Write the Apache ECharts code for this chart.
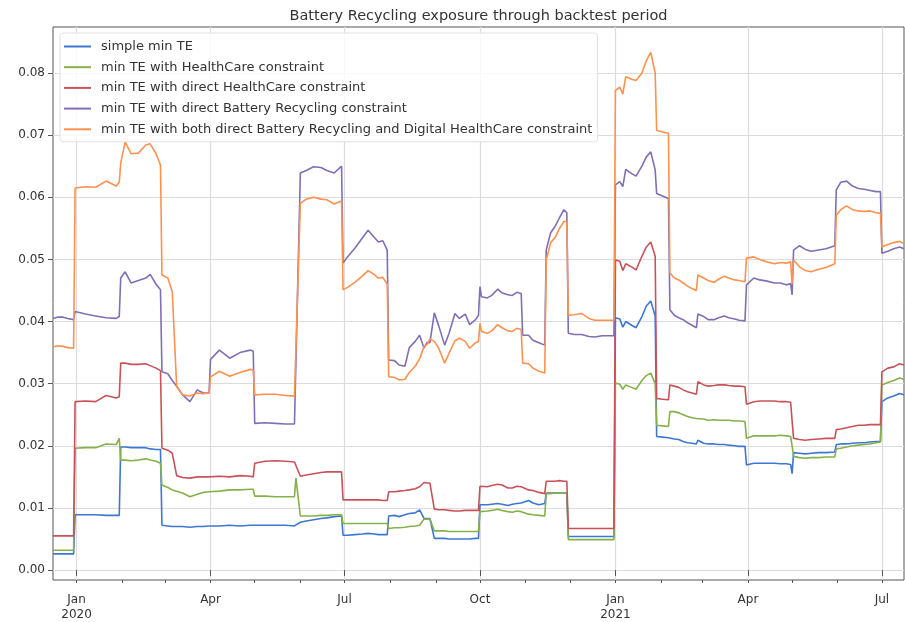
<!DOCTYPE html>
<html>
<head>
<meta charset="utf-8">
<script src="https://cdn.jsdelivr.net/npm/echarts@6/dist/echarts.min.js"></script>
<style>
  html, body { margin: 0; padding: 0; background: #ffffff; }
  #chart { width: 905px; height: 622px; }
</style>
</head>
<body>
<div id="chart"></div>
<script>
// Observation dates (rebalancing days appear as consecutive pairs)
const dates = [
  '2019-12-16','2019-12-19','2019-12-23','2019-12-26','2019-12-30',
  '2019-12-31','2020-01-07','2020-01-14','2020-01-21','2020-01-28','2020-01-30',
  '2020-01-31','2020-02-03','2020-02-07','2020-02-12','2020-02-17','2020-02-20','2020-02-24','2020-02-27',
  '2020-02-28','2020-03-03','2020-03-06',
  '2020-03-09','2020-03-13','2020-03-18','2020-03-23','2020-03-27','2020-03-31',
  '2020-04-01','2020-04-07','2020-04-14','2020-04-21','2020-04-28','2020-04-30',
  '2020-05-01','2020-05-08','2020-05-15','2020-05-22','2020-05-28','2020-05-29',
  '2020-06-01','2020-06-05','2020-06-10','2020-06-15','2020-06-19','2020-06-24','2020-06-29',
  '2020-06-30','2020-07-03','2020-07-08','2020-07-13','2020-07-17','2020-07-21','2020-07-24','2020-07-27','2020-07-30',
  '2020-07-31','2020-08-04','2020-08-07','2020-08-11','2020-08-14','2020-08-18','2020-08-21',
  '2020-08-24','2020-08-26','2020-08-28',
  '2020-08-31','2020-09-03','2020-09-07','2020-09-10','2020-09-14','2020-09-17','2020-09-21','2020-09-24','2020-09-28','2020-09-30',
  '2020-10-01','2020-10-02','2020-10-06','2020-10-09','2020-10-13','2020-10-16','2020-10-20','2020-10-23','2020-10-26','2020-10-29',
  '2020-10-30','2020-11-03','2020-11-06','2020-11-10','2020-11-14',
  '2020-11-15','2020-11-18','2020-11-21','2020-11-24','2020-11-27','2020-11-29',
  '2020-11-30','2020-12-04','2020-12-09','2020-12-14','2020-12-18','2020-12-23','2020-12-31',
  '2021-01-01','2021-01-04','2021-01-06','2021-01-08','2021-01-12','2021-01-15','2021-01-19','2021-01-22','2021-01-25','2021-01-28',
  '2021-01-29','2021-02-02','2021-02-06',
  '2021-02-07','2021-02-10','2021-02-13','2021-02-16','2021-02-19','2021-02-22','2021-02-25',
  '2021-02-26','2021-03-02','2021-03-05','2021-03-09','2021-03-12','2021-03-16','2021-03-19','2021-03-23','2021-03-26','2021-03-30',
  '2021-03-31','2021-04-05','2021-04-09','2021-04-14','2021-04-19','2021-04-23','2021-04-27','2021-04-30',
  '2021-05-01',
  '2021-05-02','2021-05-06','2021-05-10','2021-05-14','2021-05-19','2021-05-24','2021-05-30',
  '2021-05-31','2021-06-03','2021-06-07','2021-06-11','2021-06-15','2021-06-19','2021-06-23','2021-06-27','2021-06-30',
  '2021-07-01','2021-07-05','2021-07-09','2021-07-13','2021-07-16'
];

// simple min TE
const simpleMinTE = [
  0.0026,0.0026,0.0026,0.0026,0.0026,
  0.0089,0.0089,0.0089,0.0088,0.0088,0.0088,
  0.0198,0.0198,0.0197,0.0197,0.0197,0.0195,0.0194,0.0194,
  0.0072,0.0071,0.0070,
  0.0070,0.0070,0.0069,0.0070,0.0070,0.0071,
  0.0071,0.0071,0.0072,0.0071,0.0072,0.0072,
  0.0071,0.0072,0.0072,0.0072,0.0071,0.0071,
  0.0077,0.0079,0.0081,0.0083,0.0084,0.0086,0.0087,
  0.0056,0.0056,0.0057,0.0058,0.0059,0.0058,0.0057,0.0057,0.0057,
  0.0087,0.0088,0.0086,0.0089,0.0091,0.0092,0.0097,
  0.0083,0.0083,0.0083,
  0.0051,0.0051,0.0051,0.0050,0.0050,0.0050,0.0050,0.0050,0.0051,0.0051,
  0.0105,0.0105,0.0105,0.0106,0.0107,0.0106,0.0104,0.0106,0.0107,0.0108,
  0.0109,0.0112,0.0108,0.0105,0.0107,
  0.0124,0.0124,0.0124,0.0124,0.0124,0.0124,
  0.0054,0.0054,0.0054,0.0054,0.0054,0.0054,0.0054,
  0.0406,0.0404,0.0391,0.0400,0.0394,0.0390,0.0408,0.0425,0.0433,0.0409,
  0.0215,0.0214,0.0213,
  0.0213,0.0211,0.0210,0.0207,0.0205,0.0204,0.0203,
  0.0209,0.0204,0.0203,0.0203,0.0202,0.0202,0.0201,0.0200,0.0199,0.0199,
  0.0169,0.0172,0.0172,0.0172,0.0172,0.0171,0.0171,0.0170,
  0.0155,
  0.0189,0.0188,0.0187,0.0188,0.0189,0.0189,0.0190,
  0.0202,0.0203,0.0203,0.0204,0.0205,0.0205,0.0206,0.0207,0.0207,
  0.0271,0.0277,0.0280,0.0284,0.0282
];

// min TE with HealthCare constraint
const healthCareTE = [
  0.0032,0.0032,0.0032,0.0032,0.0032,
  0.0196,0.0197,0.0197,0.0203,0.0202,0.0212,
  0.0177,0.0177,0.0176,0.0177,0.0179,0.0177,0.0175,0.0172,
  0.0137,0.0133,0.0129,
  0.0127,0.0124,0.0118,0.0122,0.0125,0.0126,
  0.0126,0.0127,0.0129,0.0129,0.0130,0.0130,
  0.0119,0.0119,0.0118,0.0118,0.0118,0.0148,
  0.0087,0.0087,0.0087,0.0088,0.0088,0.0089,0.0089,
  0.0075,0.0075,0.0075,0.0075,0.0075,0.0075,0.0075,0.0075,0.0075,
  0.0067,0.0068,0.0068,0.0069,0.0070,0.0071,0.0072,
  0.0082,0.0082,0.0082,
  0.0063,0.0063,0.0063,0.0062,0.0062,0.0062,0.0062,0.0062,0.0062,0.0062,
  0.0094,0.0094,0.0095,0.0096,0.0098,0.0096,0.0094,0.0093,0.0095,0.0094,
  0.0092,0.0090,0.0089,0.0088,0.0087,
  0.0123,0.0123,0.0124,0.0124,0.0124,0.0124,
  0.0049,0.0049,0.0049,0.0049,0.0049,0.0049,0.0049,
  0.0301,0.0299,0.0291,0.0298,0.0294,0.0291,0.0305,0.0313,0.0317,0.0300,
  0.0233,0.0232,0.0231,
  0.0255,0.0255,0.0253,0.0250,0.0247,0.0245,0.0244,
  0.0247,0.0243,0.0241,0.0242,0.0241,0.0241,0.0241,0.0240,0.0240,0.0239,
  0.0212,0.0216,0.0216,0.0216,0.0216,0.0217,0.0216,0.0215,
  0.0200,
  0.0183,0.0181,0.0180,0.0181,0.0181,0.0182,0.0182,
  0.0195,0.0196,0.0198,0.0200,0.0201,0.0202,0.0203,0.0205,0.0206,
  0.0298,0.0302,0.0305,0.0309,0.0307
];

// min TE with direct HealthCare constraint
const directHealthCareTE = [
  0.0055,0.0055,0.0055,0.0055,0.0055,
  0.0271,0.0272,0.0271,0.0281,0.0277,0.0279,
  0.0333,0.0333,0.0331,0.0331,0.0332,0.0329,0.0325,0.0321,
  0.0196,0.0193,0.0188,
  0.0152,0.0149,0.0148,0.0150,0.0150,0.0150,
  0.0150,0.0151,0.0150,0.0152,0.0151,0.0150,
  0.0172,0.0175,0.0176,0.0175,0.0174,0.0174,
  0.0151,0.0153,0.0155,0.0157,0.0158,0.0158,0.0158,
  0.0113,0.0113,0.0113,0.0113,0.0113,0.0113,0.0113,0.0112,0.0112,
  0.0126,0.0126,0.0127,0.0128,0.0129,0.0131,0.0134,
  0.0141,0.0140,0.0140,
  0.0098,0.0097,0.0097,0.0096,0.0095,0.0095,0.0096,0.0096,0.0096,0.0096,
  0.0135,0.0135,0.0134,0.0136,0.0138,0.0137,0.0132,0.0132,0.0135,0.0134,
  0.0131,0.0129,0.0128,0.0125,0.0123,
  0.0143,0.0143,0.0143,0.0144,0.0143,0.0143,
  0.0067,0.0067,0.0067,0.0067,0.0067,0.0067,0.0067,
  0.0499,0.0497,0.0482,0.0493,0.0488,0.0483,0.0505,0.0520,0.0528,0.0505,
  0.0276,0.0275,0.0274,
  0.0298,0.0296,0.0294,0.0290,0.0287,0.0285,0.0283,
  0.0303,0.0298,0.0296,0.0297,0.0298,0.0298,0.0297,0.0296,0.0296,0.0295,
  0.0267,0.0271,0.0272,0.0272,0.0272,0.0271,0.0271,0.0270,
  0.0240,
  0.0212,0.0210,0.0209,0.0210,0.0211,0.0212,0.0212,
  0.0226,0.0227,0.0229,0.0231,0.0233,0.0233,0.0234,0.0234,0.0234,
  0.0319,0.0325,0.0327,0.0332,0.0330
];

// min TE with direct Battery Recycling constraint
const directBatteryTE = [
  0.0405,0.0407,0.0407,0.0405,0.0403,
  0.0416,0.0412,0.0409,0.0406,0.0405,0.0408,
  0.0470,0.0480,0.0462,0.0466,0.0470,0.0476,0.0460,0.0451,
  0.0319,0.0316,0.0305,
  0.0296,0.0282,0.0271,0.0290,0.0285,0.0285,
  0.0339,0.0354,0.0341,0.0350,0.0354,0.0352,
  0.0236,0.0237,0.0236,0.0235,0.0235,0.0235,
  0.0639,0.0643,0.0649,0.0648,0.0643,0.0639,0.0650,
  0.0494,0.0504,0.0518,0.0534,0.0547,0.0536,0.0528,0.0530,0.0515,
  0.0338,0.0337,0.0330,0.0328,0.0358,0.0368,0.0378,
  0.0357,0.0366,0.0366,
  0.0414,0.0393,0.0362,0.0381,0.0413,0.0405,0.0412,0.0395,0.0403,0.0410,
  0.0456,0.0440,0.0438,0.0442,0.0452,0.0446,0.0443,0.0442,0.0447,0.0445,
  0.0378,0.0378,0.0370,0.0366,0.0362,
  0.0515,0.0543,0.0553,0.0567,0.0580,0.0575,
  0.0381,0.0379,0.0379,0.0376,0.0375,0.0377,0.0377,
  0.0620,0.0625,0.0617,0.0645,0.0638,0.0634,0.0650,0.0665,0.0673,0.0644,
  0.0606,0.0602,0.0598,
  0.0419,0.0410,0.0406,0.0403,0.0398,0.0394,0.0390,
  0.0412,0.0408,0.0403,0.0403,0.0406,0.0409,0.0406,0.0404,0.0402,0.0401,
  0.0459,0.0470,0.0467,0.0465,0.0462,0.0462,0.0459,0.0461,
  0.0443,
  0.0515,0.0522,0.0516,0.0513,0.0515,0.0517,0.0522,
  0.0612,0.0624,0.0626,0.0618,0.0614,0.0613,0.0611,0.0609,0.0609,
  0.0510,0.0513,0.0517,0.0520,0.0517
];

// min TE with both direct Battery Recycling and Digital HealthCare constraint
const bothDirectTE = [
  0.0359,0.0361,0.0360,0.0358,0.0357,
  0.0615,0.0617,0.0616,0.0626,0.0618,0.0624,
  0.0655,0.0689,0.0670,0.0671,0.0684,0.0686,0.0670,0.0652,
  0.0475,0.0470,0.0448,
  0.0295,0.0282,0.0280,0.0285,0.0284,0.0285,
  0.0311,0.0320,0.0312,0.0318,0.0323,0.0322,
  0.0282,0.0283,0.0283,0.0281,0.0280,0.0280,
  0.0590,0.0597,0.0600,0.0597,0.0596,0.0589,0.0594,
  0.0451,0.0455,0.0463,0.0473,0.0482,0.0476,0.0470,0.0471,0.0460,
  0.0311,0.0310,0.0306,0.0307,0.0318,0.0328,0.0340,
  0.0360,0.0363,0.0372,
  0.0368,0.0357,0.0333,0.0349,0.0369,0.0373,0.0368,0.0357,0.0366,0.0368,
  0.0397,0.0384,0.0381,0.0385,0.0395,0.0390,0.0385,0.0384,0.0389,0.0387,
  0.0333,0.0332,0.0325,0.0320,0.0317,
  0.0499,0.0527,0.0535,0.0550,0.0561,0.0561,
  0.0410,0.0411,0.0413,0.0405,0.0402,0.0402,0.0402,
  0.0772,0.0777,0.0766,0.0794,0.0790,0.0788,0.0800,0.0820,0.0833,0.0800,
  0.0708,0.0705,0.0703,
  0.0478,0.0470,0.0467,0.0462,0.0457,0.0453,0.0450,
  0.0475,0.0470,0.0466,0.0463,0.0468,0.0473,0.0470,0.0467,0.0466,0.0464,
  0.0502,0.0504,0.0500,0.0496,0.0493,0.0495,0.0494,0.0496,
  0.0461,
  0.0499,0.0488,0.0482,0.0480,0.0484,0.0487,0.0493,
  0.0571,0.0580,0.0586,0.0580,0.0578,0.0577,0.0578,0.0575,0.0574,
  0.0520,0.0524,0.0527,0.0529,0.0525
];

const seriesNames = [
  'simple min TE',
  'min TE with HealthCare constraint',
  'min TE with direct HealthCare constraint',
  'min TE with direct Battery Recycling constraint',
  'min TE with both direct Battery Recycling and Digital HealthCare constraint'
];
const seriesValues = [simpleMinTE, healthCareTE, directHealthCareTE, directBatteryTE, bothDirectTE];
const seriesColors = ['#3d77d2', '#86b04a', '#c9525a', '#7f6fb4', '#ff914f'];

// Axis ticks
const xTickDates = ['2020-01-01','2020-04-01','2020-07-01','2020-10-01','2021-01-01','2021-04-01','2021-07-01'];
const xTickLabels = ['Jan\n2020','Apr','Jul','Oct','Jan\n2021','Apr','Jul'];
const yTicks = [0, 0.01, 0.02, 0.03, 0.04, 0.05, 0.06, 0.07, 0.08];
const chartTitle = 'Battery Recycling exposure through backtest period';

const FONT = '"DejaVu Sans", "Liberation Sans", sans-serif';

// dates are placed on a numeric axis as UTC day timestamps
function toTime(s) {
  const p = s.split('-').map(Number);
  return Date.UTC(p[0], p[1] - 1, p[2]);
}

const xMin = toTime('2019-12-16');
const xMax = toTime('2021-07-16');
const xTickTimes = xTickDates.map(toTime);
const xLabelByTime = {};
xTickTimes.forEach((t, i) => { xLabelByTime[t] = xTickLabels[i]; });

// monthly minor ticks
const monthTimes = [];
for (let y = 2020, m = 0; y < 2021 || (y === 2021 && m <= 6); ) {
  monthTimes.push(Date.UTC(y, m, 1));
  m++; if (m > 11) { m = 0; y++; }
}

const chart = echarts.init(document.getElementById('chart'), null, { renderer: 'canvas' });

const gridLine = { show: true, lineStyle: { color: '#dcdcdc', width: 1.2 } };

chart.setOption({
  animation: false,
  backgroundColor: '#ffffff',
  textStyle: { fontFamily: FONT },
  graphic: [{
    type: 'text',
    x: 478.5,
    y: 16,
    style: {
      text: chartTitle,
      fill: '#333333',
      font: '14.5px ' + FONT,
      textAlign: 'center',
      textVerticalAlign: 'middle'
    }
  }],
  grid: {
    left: 53, right: 1, top: 27, bottom: 42,
    show: true, borderColor: '#555555', borderWidth: 1, backgroundColor: 'transparent'
  },
  legend: {
    orient: 'vertical',
    left: 60, top: 33,
    padding: [6, 5, 5, 4],
    itemGap: 5.7,
    itemWidth: 27,
    itemHeight: 2,
    icon: 'rect',
    backgroundColor: 'rgba(255,255,255,0.82)',
    borderColor: '#e2e2e2',
    borderWidth: 1,
    borderRadius: 3,
    textStyle: { fontSize: 13, color: '#333333', fontFamily: FONT, lineHeight: 15, padding: [0, 0, 0, 5] },
    data: seriesNames
  },
  xAxis: [{
    type: 'value',
    min: xMin, max: xMax,
    axisLine: { show: false },
    axisTick: { show: true, length: 6, customValues: xTickTimes, lineStyle: { color: '#555555', width: 1 } },
    axisLabel: {
      customValues: xTickTimes,
      formatter: v => xLabelByTime[v] || '',
      color: '#333333', fontSize: 12, fontFamily: FONT, lineHeight: 15, margin: 12
    },
    splitLine: gridLine
  }, {
    type: 'value',
    min: xMin, max: xMax,
    position: 'bottom',
    axisLine: { show: false },
    axisLabel: { show: false },
    splitLine: { show: false },
    axisTick: { show: true, length: 3, customValues: monthTimes, lineStyle: { color: '#555555', width: 1 } }
  }],
  yAxis: {
    type: 'value',
    min: -0.0016, max: 0.0874,
    axisLine: { show: false },
    axisTick: { show: true, length: 5, customValues: yTicks, lineStyle: { color: '#555555', width: 1 } },
    axisLabel: {
      customValues: yTicks,
      formatter: v => v.toFixed(2),
      color: '#333333', fontSize: 12, fontFamily: FONT, margin: 8
    },
    splitLine: gridLine
  },
  series: seriesNames.map((name, k) => ({
    name: name,
    type: 'line',
    xAxisIndex: 0,
    showSymbol: false,
    symbol: 'none',
    color: seriesColors[k],
    lineStyle: { width: 1.6, color: seriesColors[k] },
    data: dates.map((d, i) => [toTime(d), seriesValues[k][i]])
  }))
});
</script>
</body>
</html>
